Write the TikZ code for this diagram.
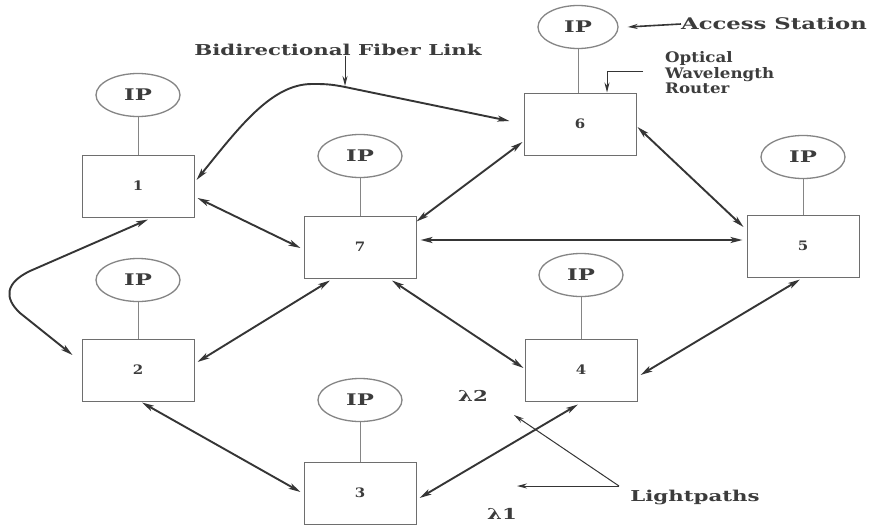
\documentclass[tikz,border=0pt]{standalone}
\usepackage{fontspec}
\setmainfont{DejaVu Serif}
\newfontfamily\lblfont[FakeStretch=1.15]{DejaVu Serif}
\newfontfamily\widefont[FakeStretch=1.42]{DejaVu Serif}
\usetikzlibrary{arrows.meta,shapes.geometric,calc}
\definecolor{boxgray}{HTML}{6E6E6E}
\definecolor{ipgray}{HTML}{858585}
\definecolor{linkgray}{HTML}{353535}
\definecolor{txtgray}{HTML}{3C3C3C}
\tikzset{
  router/.style={draw=boxgray, line width=1pt, rectangle, minimum width=112pt, minimum height=62pt, inner sep=0pt, text=txtgray, font=\lblfont\bfseries\fontsize{13}{13}\selectfont},
  ipnode/.style={draw=ipgray, line width=1.3pt, ellipse, minimum width=84pt, minimum height=43pt, inner sep=0pt, text=txtgray, font=\widefont\bfseries\fontsize{16}{16}\selectfont},
  stub/.style={draw=ipgray, line width=1pt},
  link/.style={draw=linkgray, line width=1.9pt, {Stealth[length=12pt,width=6pt,inset=3pt]}-{Stealth[length=12pt,width=6pt,inset=3pt]}},
  annot/.style={draw=linkgray, line width=1pt, -{Stealth[length=10pt,width=5pt]}},
  lbl/.style={inner sep=0pt, text=txtgray, font=\widefont\bfseries\fontsize{15}{15}\selectfont},
  lblsmall/.style={inner sep=0pt, text=txtgray, font=\lblfont\bfseries\fontsize{14.5}{15.5}\selectfont},
}
\begin{document}
\begin{tikzpicture}[x=1pt,y=-1pt]
\useasboundingbox[fill=white] (0,0) rectangle (876,525);
% routers
\node[router] (b1) at (138,186) {1};
\node[router] (b2) at (138,370) {2};
\node[router] (b7) at (360,247) {7};
\node[router] (b3) at (360,493) {3};
\node[router] (b4) at (581,370) {4};
\node[router] (b6) at (580,124) {6};
\node[router] (b5) at (803,246) {5};
% access stations
\node[ipnode] (ip1) at (138,95) {IP};
\node[ipnode] (ip2) at (138,280) {IP};
\node[ipnode] (ip7) at (360,156) {IP};
\node[ipnode] (ip3) at (360,400) {IP};
\node[ipnode] (ip4) at (581,275) {IP};
\node[ipnode, minimum width=80pt] (ip6) at (578,27) {IP};
\node[ipnode] (ip5) at (803,157) {IP};
\foreach \n in {1,2,7,3,4,5}{\draw[stub] (ip\n.south) -- (b\n.north);}
\draw[stub] (ip6.south) -- (ip6.south |- b6.north);
% fiber links
\draw[link] ([xshift=2pt,yshift=6pt]b1.east) .. controls (240,126) and (272,84) .. (312,84) .. controls (324,84) and (330,84) .. (345,87) -- ([xshift=-14pt,yshift=3pt]b6.west);
\draw[link] ([xshift=3pt,yshift=-12pt]b1.east) -- ([xshift=-3pt,yshift=-1pt]b7.west);
\draw[link] ([xshift=10pt,yshift=-2pt]b1.south) -- (30,271) .. controls (5,283) and (4,298) .. (20,313) -- ([xshift=-9pt,yshift=15pt]b2.west);
\draw[link] ([xshift=3pt,yshift=8pt]b2.east) -- ([xshift=-30pt,yshift=-2pt]b7.south);
\draw[link] ([xshift=4pt,yshift=-1pt]b2.south) -- ([xshift=-3pt,yshift=1pt]b3.west);
\draw[link] ([yshift=-6pt]b7.north east) -- ([xshift=-1pt,yshift=-18pt]b6.west);
\draw[link] ([xshift=4pt,yshift=7pt]b7.east) -- ([xshift=-4pt,yshift=6pt]b5.west);
\draw[link] ([xshift=32pt,yshift=-2pt]b7.south) -- ([xshift=-1pt,yshift=2pt]b4.west);
\draw[link] ([xshift=1pt,yshift=-3pt]b6.east) -- ([xshift=-3pt,yshift=19pt]b5.west);
\draw[link] ([xshift=-3pt,yshift=-2pt]b5.south) -- ([xshift=3pt,yshift=-5pt]b4.east);
\draw[link] ([xshift=-3pt,yshift=-3pt]b4.south) -- ([xshift=3pt,yshift=-5pt]b3.east);
% labels
\node[lbl] (bfl) at (338,50) {Bidirectional Fiber Link};
\coordinate (bflend) at (345,86);
\draw[annot] ([xshift=7pt]bfl.south) -- (bflend);
\node[lbl, font=\widefont\bfseries\fontsize{16}{16}\selectfont] (as) at (774,24) {Access Station};
\draw[annot, line width=1.6pt] (as.west) -- ([xshift=9pt]ip6.east);
\node[lblsmall, anchor=west, align=left] (owr) at (665,73) {Optical\\Wavelength\\Router};
\draw[annot] ([xshift=-22pt,yshift=2pt]owr.west) -| ([xshift=27pt]b6.north);
\node[lbl, font=\widefont\bfseries\fontsize{15}{15}\selectfont] (lp) at (695,497) {Lightpaths};
\coordinate (lpj) at (619,486);
\coordinate (lpa) at (517,486);
\coordinate (lpb) at (514,415);
\draw[annot] (lpj) -- (lpa);
\draw[annot] (lpj) -- (lpb);
\node[lbl] (l2) at (473,396) {λ2};
\node[lbl] (l1) at (502,514) {λ1};
\end{tikzpicture}
\end{document}
